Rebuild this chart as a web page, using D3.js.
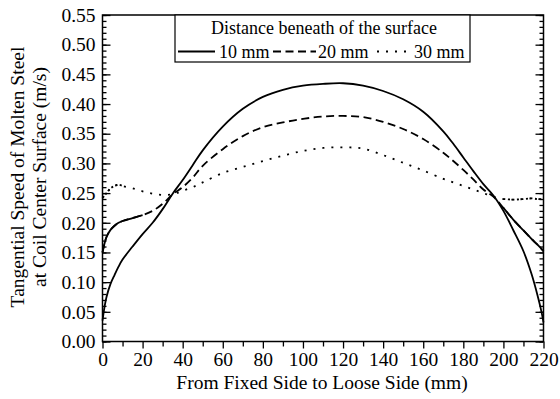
<!DOCTYPE html>
<html>
<head>
<meta charset="utf-8">
<script src="https://cdn.jsdelivr.net/npm/d3@7"></script>
<style>
  body { margin:0; background:#fff; }
</style>
</head>
<body>
<svg id="chart" width="560" height="399"></svg>
<script>
// positions along the coil (mm)
const xs = [0,1,2,4,6,8,10,15,20,25,30,35,40,45,50,60,70,80,90,100,110,120,130,140,150,160,170,175,180,185,190,195,200,205,210,214,217,219,220];
// tangential speed (m/s)
const v10 = [0.035,0.058,0.075,0.097,0.112,0.126,0.138,0.160,0.181,0.200,0.223,0.249,0.272,0.297,0.322,0.362,0.392,0.412,0.424,0.431,0.434,0.435,0.431,0.422,0.408,0.387,0.354,0.333,0.310,0.287,0.265,0.246,0.220,0.187,0.152,0.114,0.078,0.050,0.032];
const v20 = [0.150,0.165,0.176,0.188,0.195,0.200,0.203,0.208,0.213,0.220,0.232,0.248,0.260,0.276,0.296,0.324,0.346,0.361,0.369,0.375,0.379,0.380,0.378,0.370,0.358,0.341,0.318,0.304,0.289,0.273,0.256,0.244,0.225,0.205,0.187,0.173,0.163,0.156,0.152];
const v30 = [0.242,0.246,0.250,0.258,0.262,0.264,0.262,0.258,0.253,0.249,0.247,0.248,0.254,0.260,0.268,0.284,0.294,0.304,0.313,0.321,0.326,0.327,0.325,0.314,0.301,0.288,0.274,0.268,0.262,0.256,0.250,0.244,0.240,0.239,0.240,0.241,0.240,0.240,0.240];
const seriesNames = ["10 mm","20 mm","30 mm"];
const xTicks = d3.range(0, 221, 20);
const yTicks = d3.range(0, 0.5501, 0.05);

const FONT = "'Liberation Serif', 'Times New Roman', Times, 'DejaVu Serif', serif";

const svg = d3.select("#chart");
const x = d3.scaleLinear().domain([0,220]).range([102.5,543.5]);
const y = d3.scaleLinear().domain([0,0.55]).range([341.5,15]);

const series = [
  {name:seriesNames[0], vals:v10, dash:null, ends:null},
  {name:seriesNames[1], vals:v20, dash:"8,4.5", ends:{l:20, r:196, dash:null}},
  {name:seriesNames[2], vals:v30, dash:"2,7", ends:{l:10, r:196, dash:"2,2.5"}}
];

const line = d3.line().x(d => x(d[0])).y(d => y(d[1])).curve(d3.curveCatmullRom.alpha(0.5));

series.forEach(s => {
  const pts = xs.map((xv,i) => [xv, s.vals[i]]);
  svg.append("path").datum(pts).attr("d", line)
    .attr("fill","none").attr("stroke","#000").attr("stroke-width",1.8)
    .attr("stroke-dasharray", s.dash);
  // Origin-style denser pattern near the edges
  if (s.ends) {
    [pts.filter(p => p[0] <= s.ends.l), pts.filter(p => p[0] >= s.ends.r)].forEach(seg => {
      svg.append("path").datum(seg).attr("d", line)
        .attr("fill","none").attr("stroke","#000").attr("stroke-width",1.8)
        .attr("stroke-dasharray", s.ends.dash);
    });
  }
});

// axes
const fmt = d3.format(".2f");
svg.append("g").attr("transform","translate(102.5,0)")
  .call(d3.axisLeft(y).tickValues(yTicks).tickSize(-8).tickSizeOuter(0).tickPadding(7).tickFormat(fmt));
svg.append("g").attr("transform","translate(102.5,0)")
  .call(d3.axisLeft(y).tickValues(d3.range(0,0.5501,0.01)).tickSize(-4).tickSizeOuter(0).tickFormat(""));
svg.append("g").attr("transform","translate(543.5,0)")
  .call(d3.axisRight(y).tickValues(yTicks).tickSize(-8).tickSizeOuter(0).tickFormat(""));
svg.append("g").attr("transform","translate(543.5,0)")
  .call(d3.axisRight(y).tickValues(d3.range(0,0.5501,0.01)).tickSize(-4).tickSizeOuter(0).tickFormat(""));
svg.append("g").attr("transform","translate(0,341.5)")
  .call(d3.axisBottom(x).tickValues(xTicks).tickSize(7).tickSizeOuter(0).tickPadding(4));
svg.append("g").attr("transform","translate(0,341.5)")
  .call(d3.axisBottom(x).tickValues(d3.range(10,220,20)).tickSize(5).tickSizeOuter(0).tickFormat(""));
svg.selectAll(".domain").remove();
svg.selectAll(".tick line").attr("stroke","#000").attr("stroke-width",1.3);
svg.selectAll(".tick text").style("font-size","19.5px").attr("fill","#000");

svg.append("rect").attr("x",102.5).attr("y",15).attr("width",441).attr("height",326.5)
  .attr("fill","none").attr("stroke","#000").attr("stroke-width",1.5);

// axis titles
svg.append("text").attr("x",322).attr("y",389).attr("text-anchor","middle")
  .style("font-size","19.5px").text("From Fixed Side to Loose Side (mm)");
svg.append("text").attr("transform","translate(24,177) rotate(-90)").attr("text-anchor","middle")
  .style("font-size","19.5px").text("Tangential Speed of Molten Steel");
svg.append("text").attr("transform","translate(46,177) rotate(-90)").attr("text-anchor","middle")
  .style("font-size","19.5px").text("at Coil Center Surface (m/s)");

// legend
const lg = svg.append("g");
lg.append("rect").attr("x",175).attr("y",15).attr("width",295).attr("height",47)
  .attr("fill","#fff").attr("stroke","#000").attr("stroke-width",1.2);
lg.append("text").attr("x",324).attr("y",34).attr("text-anchor","middle")
  .style("font-size","18px").text("Distance beneath of the surface");
const lgItems = [
  {x1:178, x2:215, tx:219},
  {x1:273, x2:316, tx:318},
  {x1:377, x2:410, tx:414}
];
lgItems.forEach((it,i) => {
  lg.append("line").attr("x1",it.x1).attr("x2",it.x2).attr("y1",51.5).attr("y2",51.5)
    .attr("stroke","#000").attr("stroke-width",1.8).attr("stroke-dasharray", series[i].dash);
  lg.append("text").attr("x",it.tx).attr("y",57.5).style("font-size","18px").text(series[i].name);
});

svg.selectAll("text").style("font-family", FONT).attr("font-family", FONT);
</script>
</body>
</html>
